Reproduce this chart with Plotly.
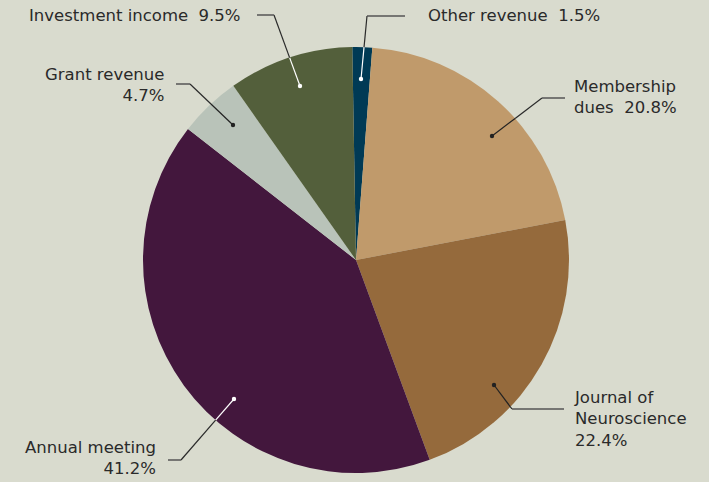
import math
import plotly.graph_objects as go

# ---- data ----
labels = ["Other revenue", "Membership dues", "Journal of Neuroscience",
          "Annual meeting", "Grant revenue", "Investment income"]
values = [1.5, 20.8, 22.4, 41.2, 4.7, 9.5]
SP = "\u00a0 "
label_texts = ["Other revenue" + SP + "1.5%", "Membership<br>dues" + SP + "20.8%",
               "Journal of<br>Neuroscience<br>22.4%", "Annual meeting<br>41.2%",
               "Grant revenue<br>4.7%", "Investment income" + SP + "9.5%"]

# ---- styles ----
colors = ["#003a55", "#c09a6b", "#956a3c", "#43173d", "#b9c3b9", "#535f3b"]
dot_colors = ["white", "#222222", "#222222", "white", "#222222", "white"]
BG = "#d9dbce"
W, H = 709, 482
CX, CY, R = 356, 260, 213

# leader-line geometry (pixels): dot, elbow, end, text anchor x, text y, xanchor
leaders = [
    ((361, 79), (367, 16), (405, 16), 426, 16, "left"),
    ((492, 136), (542, 98), (565, 98), 572, 97, "left"),
    ((494, 385), (512, 409), (564, 409), 572, 419, "left"),
    ((234, 399), (181, 460), (168, 460), 158, 458, "right"),
    ((233, 125), (190, 84), (176, 84), 166, 85, "right"),
    ((300, 86), (274, 15), (257, 15), 243, 15, "right"),
]

def px(x):
    return x / W

def py(y):
    return 1 - y / H

fig = go.Figure(go.Pie(
    labels=labels, values=values, sort=False, direction="clockwise",
    rotation=-1, textinfo="none", hoverinfo="label+percent",
    marker=dict(colors=colors, line=dict(width=0)),
    domain=dict(x=[px(CX - R), px(CX + R)], y=[py(CY + R), py(CY - R)]),
    showlegend=False,
))

shapes = []
annotations = []
for (dot, elbow, end, tx, ty, anchor), dcol, txt in zip(leaders, dot_colors, label_texts):
    dx, dy = elbow[0] - dot[0], elbow[1] - dot[1]
    fx, fy = dot[0] - CX, dot[1] - CY
    a = dx * dx + dy * dy
    b = 2 * (fx * dx + fy * dy)
    c = fx * fx + fy * fy - R * R
    disc = b * b - 4 * a * c
    t = (-b + math.sqrt(max(disc, 0))) / (2 * a)
    t = min(max(t, 0), 1)
    mid = (dot[0] + t * dx, dot[1] + t * dy)
    shapes.append(dict(type="line", xref="paper", yref="paper",
                       x0=px(dot[0]), y0=py(dot[1]), x1=px(mid[0]), y1=py(mid[1]),
                       line=dict(color=dcol, width=1.2)))
    shapes.append(dict(type="line", xref="paper", yref="paper",
                       x0=px(mid[0]), y0=py(mid[1]), x1=px(elbow[0]), y1=py(elbow[1]),
                       line=dict(color="#2a2a2a", width=1.2)))
    shapes.append(dict(type="line", xref="paper", yref="paper",
                       x0=px(elbow[0]), y0=py(elbow[1]), x1=px(end[0]), y1=py(end[1]),
                       line=dict(color="#555555", width=1.5)))
    shapes.append(dict(type="circle", xref="paper", yref="paper",
                       x0=px(dot[0] - 2.2), x1=px(dot[0] + 2.2),
                       y0=py(dot[1] + 2.2), y1=py(dot[1] - 2.2),
                       fillcolor=dcol, line=dict(width=0)))
    annotations.append(dict(x=px(tx), y=py(ty), xref="paper", yref="paper",
                            text=txt, showarrow=False, xanchor=anchor, yanchor="middle",
                            align=anchor,
                            font=dict(family="DejaVu Sans", size=16.5, color="#2a2a2a")))

fig.update_layout(
    width=W, height=H, margin=dict(l=0, r=0, t=0, b=0),
    paper_bgcolor=BG, plot_bgcolor=BG,
    shapes=shapes, annotations=annotations,
)
fig.write_html("out.html", config={"displayModeBar": False},
               post_script="document.body.style.margin='0';document.body.style.overflow='hidden';")
